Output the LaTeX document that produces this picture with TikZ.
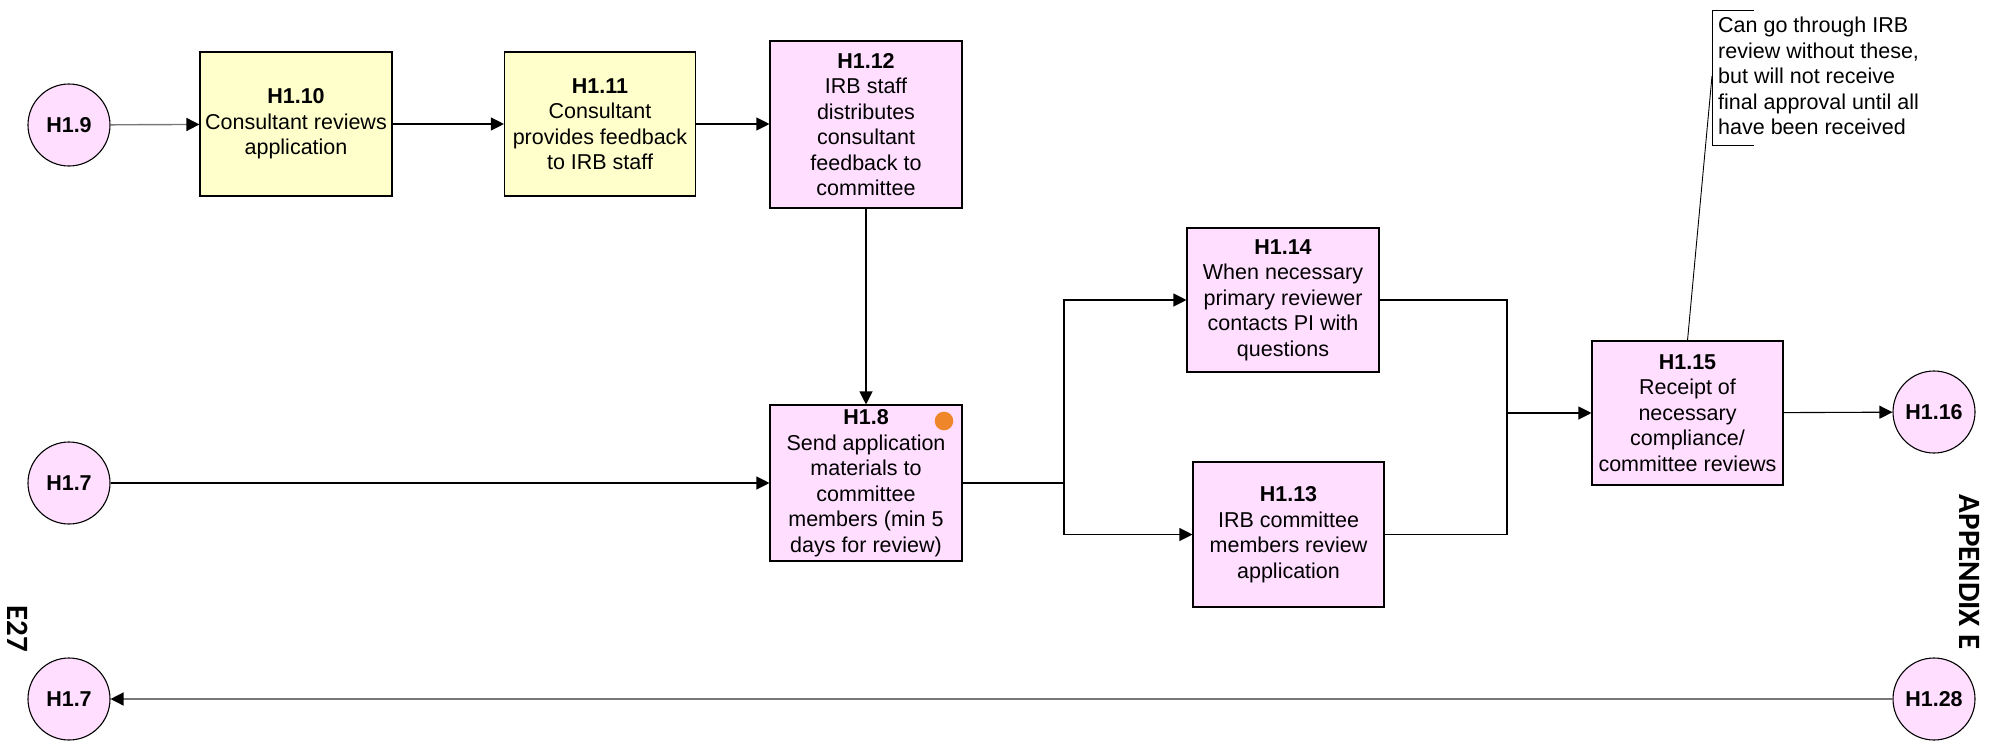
\documentclass[tikz,border=0pt]{standalone}
\usepackage{fontspec}
\setmainfont{Liberation Sans}
\newfontfamily\calib{Carlito}
\usetikzlibrary{arrows.meta}
\definecolor{procpink}{RGB}{255,222,255}
\definecolor{procyellow}{RGB}{255,255,204}
\definecolor{dotorange}{RGB}{240,134,42}
\definecolor{linegray}{RGB}{120,120,120}
\begin{document}
\begin{tikzpicture}[x=1pt,y=-1pt,
  every node/.style={font=\fontsize{21.5}{25.5}\selectfont},
  proc/.style={draw=black, line width=1.1pt, fill=procpink, minimum width=192pt,
    minimum height=144pt, align=center, inner sep=1pt},
  yproc/.style={proc, fill=procyellow},
  conn/.style={draw=black, line width=1.1pt, fill=procpink, circle, minimum size=82pt,
    inner sep=0pt, font=\fontsize{21.5}{25.5}\selectfont\bfseries},
  link/.style={line width=1.1pt},
  arr/.style={link, -{Triangle[length=13pt,width=13pt,color=black]}},
  garr/.style={arr, draw=linegray, line width=1.4pt},
  side/.style={font=\fontsize{31}{31}\selectfont\calib\bfseries, rotate=-90}
]
\useasboundingbox (0,0) rectangle (2000,742);

% off-page connectors
\node[conn] (h19) at (69,125) {H1.9};
\node[conn] (h17a) at (69,483) {H1.7};
\node[conn] (h17b) at (69,699) {H1.7};
\node[conn] (h116) at (1934,412) {H1.16};
\node[conn] (h128) at (1934,699) {H1.28};

% process steps
\node[yproc] (h110) at (296,124) {\textbf{H1.10}\\Consultant reviews\\application};
\node[yproc, minimum width=191pt] (h111) at (600,124) {\textbf{H1.11}\\Consultant\\provides feedback\\to IRB staff};
\node[proc, minimum height=167pt] (h112) at (866,124.5) {\textbf{H1.12}\\IRB staff\\distributes\\consultant\\feedback to\\committee};
\node[proc, minimum height=156pt] (h18) at (866,483) {\textbf{H1.8}\\Send application\\materials to\\committee\\members (min 5\\days for review)};
\node[circle, fill=dotorange, minimum size=18.6pt, inner sep=0pt] (dot) at (944,421) {};
\node[proc] (h114) at (1283,300) {\textbf{H1.14}\\When necessary\\primary reviewer\\contacts PI with\\questions};
\node[proc, minimum width=191pt, minimum height=145pt] (h113) at (1288.5,534.5) {\textbf{H1.13}\\IRB committee\\members review\\application};
\node[proc, minimum width=191pt] (h115) at (1687.5,413) {\textbf{H1.15}\\Receipt of\\necessary\\compliance/\\committee reviews};

% annotation
\node[anchor=west, align=left, inner sep=0pt] (note) at (1718,76) {Can go through IRB\\review without these,\\but will not receive\\final approval until all\\have been received};
\coordinate (brk) at (1712,76);
\draw[line width=0.9pt] (1754,10) -- (1712,10) -- (1712,145) -- (1754,145);
\draw[line width=0.9pt] (h115.north) -- (brk);

% page labels
\node[side] (e27) at (18,629) {E27};
\node[side] (appx) at (1970,572) {APPENDIX E};

% connectors
\draw[garr] (h19) -- (h110);
\draw[arr] (h110) -- (h111);
\draw[arr] (h111) -- (h111 -| h112.west);
\draw[arr] (h112) -- (h18);
\draw[arr] (h17a) -- (h18);
\coordinate (split) at (1064,483);
\draw[link] (h18.east) -- (split);
\draw[arr] (split) |- (h114.west);
\draw[arr] (split) |- (h113.west);
\coordinate (join) at (1507,413);
\draw[link] (h114.east) -| (join);
\draw[link] (h113.east) -| (join);
\draw[arr] (join) -- (h115.west);
\draw[arr] (h115) -- (h116);
\draw[garr] (h128) -- (h17b);
\end{tikzpicture}
\end{document}
